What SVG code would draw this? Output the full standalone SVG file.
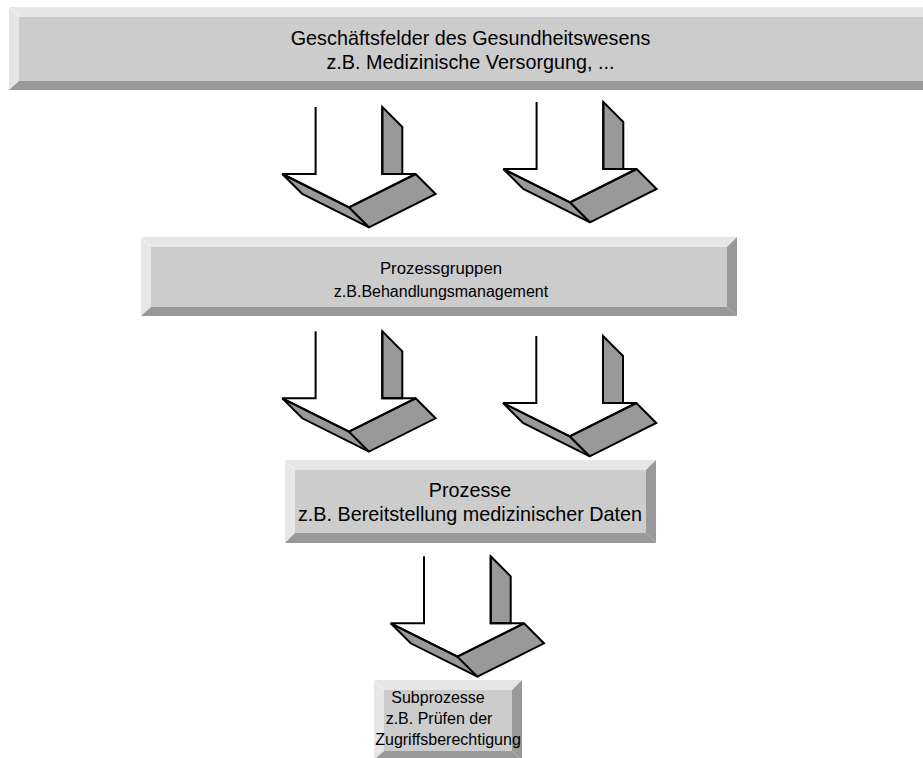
<svg xmlns="http://www.w3.org/2000/svg" xmlns:xlink="http://www.w3.org/1999/xlink" width="923" height="758" viewBox="0 0 923 758">
  <style>
    .face { fill: #cccccc; }
    .lite { fill: #e6e6e6; }
    .dark { fill: #999999; }
    .miter { stroke: #ffffff; stroke-width: 1; stroke-dasharray: 1 1; }
    .lbl { font-family: "Liberation Sans", Arial, sans-serif; fill: #000000; text-anchor: middle; }
    .front { fill: #ffffff; }
    .side { fill: #999999; stroke: #000000; stroke-width: 2; stroke-linejoin: miter; }
    .edge { fill: none; stroke: #000000; stroke-width: 2; stroke-linejoin: miter; }
  </style>
  <defs>
    <!-- 3D block arrow pointing down; origin at the left wing corner -->
    <g id="blockArrow">
      <polygon class="front" points="33.3,-67 33.3,0 0,0 66.7,33.3 133.3,0 100,0 100,-67"/>
      <polygon class="side" points="100,-67 120,-47 120,0 100,0"/>
      <polygon class="side" points="0,0 66.7,33.3 86.7,53.3 20,20"/>
      <polygon class="side" points="66.7,33.3 133.3,0 153.3,20 86.7,53.3"/>
      <polyline class="edge" points="33.3,-67 33.3,0 0,0 66.7,33.3 133.3,0 100,0 100,-67"/>
    </g>
  </defs>
  <rect width="923" height="758" fill="#ffffff"/>

  <g id="geschaeftsfelder">
    <polygon class="lite" points="9,7 935,7 925,17 19,17"/>
    <polygon class="lite" points="9,7 19,17 19,81 9,90"/>
    <polygon class="dark" points="9,90 19,81 925,81 935,90"/>
    <rect class="face" x="19" y="17" width="910" height="64"/>
    <line class="miter" x1="9" y1="7" x2="19" y2="17"/>
    <text class="lbl" font-size="19.8" x="470.5" y="45">Geschäftsfelder des Gesundheitswesens</text>
    <text class="lbl" font-size="19.8" x="470.5" y="69">z.B. Medizinische Versorgung, ...</text>
  </g>

  <g id="prozessgruppen">
    <polygon class="lite" points="141,237 737,237 727,247 151,247"/>
    <polygon class="lite" points="141,237 151,247 151,307 141,316"/>
    <polygon class="dark" points="737,237 737,316 727,307 727,247"/>
    <polygon class="dark" points="141,316 151,307 727,307 737,316"/>
    <rect class="face" x="151" y="247" width="576" height="60"/>
    <line class="miter" x1="141" y1="237" x2="151" y2="247"/>
    <text class="lbl" font-size="16.8" x="441" y="274">Prozessgruppen</text>
    <text class="lbl" font-size="16" x="441" y="297">z.B.Behandlungsmanagement</text>
  </g>

  <g id="prozesse">
    <polygon class="lite" points="285,460 656,460 646,470 295,470"/>
    <polygon class="lite" points="285,460 295,470 295,533 285,543"/>
    <polygon class="dark" points="656,460 656,543 646,533 646,470"/>
    <polygon class="dark" points="285,543 295,533 646,533 656,543"/>
    <rect class="face" x="295" y="470" width="351" height="63"/>
    <line class="miter" x1="285" y1="460" x2="295" y2="470"/>
    <text class="lbl" font-size="19.8" x="470" y="497">Prozesse</text>
    <text class="lbl" font-size="19.8" x="470" y="521">z.B. Bereitstellung medizinischer Daten</text>
  </g>

  <g id="subprozesse">
    <polygon class="lite" points="374,680 522,680 512,690 384,690"/>
    <polygon class="lite" points="374,680 384,690 384,751 374,760"/>
    <polygon class="dark" points="522,680 522,760 512,751 512,690"/>
    <polygon class="dark" points="374,760 384,751 512,751 522,760"/>
    <rect class="face" x="384" y="690" width="128" height="61"/>
    <line class="miter" x1="374" y1="680" x2="384" y2="690"/>
    <text class="lbl" font-size="16" x="438" y="703">Subprozesse</text>
    <text class="lbl" font-size="16" x="439" y="724">z.B. Prüfen der</text>
    <text class="lbl" font-size="16" x="448" y="745">Zugriffsberechtigung</text>
  </g>

  <g id="connectors">
    <use xlink:href="#blockArrow" transform="translate(282.3,174)"/>
    <use xlink:href="#blockArrow" transform="translate(503.3,169)"/>
    <use xlink:href="#blockArrow" transform="translate(282.3,398.3)"/>
    <use xlink:href="#blockArrow" transform="translate(503,403)"/>
    <use xlink:href="#blockArrow" transform="translate(390.7,623.3)"/>
  </g>
</svg>
